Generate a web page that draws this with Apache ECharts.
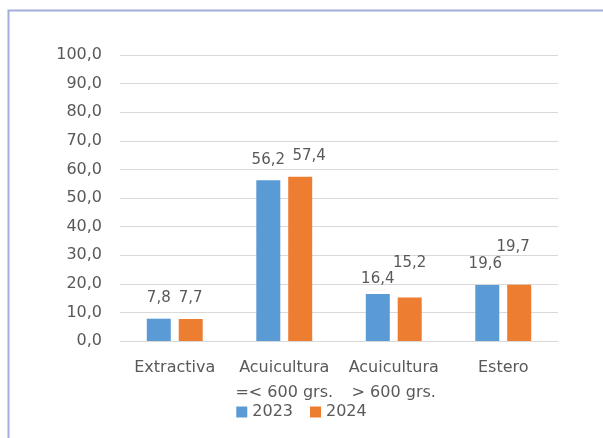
<!DOCTYPE html>
<html>
<head>
<meta charset="utf-8">
<script src="https://cdn.jsdelivr.net/npm/echarts@6/dist/echarts.min.js"></script>
<style>
html,body{margin:0;padding:0;background:#fff;}
#chart{width:603px;height:438px;}
</style>
</head>
<body>
<div id="chart"></div>
<script>
// ---- data ----
const categories = ['Extractiva', 'Acuicultura\n=< 600 grs.', 'Acuicultura\n> 600 grs.', 'Estero'];
const seriesNames = ['2023', '2024'];
const values2023 = [7.8, 56.2, 16.4, 19.6];
const values2024 = [7.7, 57.4, 15.2, 19.7];
const yTicks = [0, 10, 20, 30, 40, 50, 60, 70, 80, 90, 100];

// ---- style (label nudges [dx, dy], as in the original hand-placed labels) ----
const labelNudge2023 = [[0, 0], [0, 0], [0, 6], [-2, 0]];
const labelNudge2024 = [[0, 0], [9, 0], [0, -14], [-6, -17]];
const colors = ['#5B9BD5', '#ED7D31'];
const textColor = '#595959';
const font = 'DejaVu Sans';

function fmt(v) { return v.toFixed(1).replace('.', ','); }

function makeSeries(name, vals, nudge, color) {
  return {
    name: name,
    type: 'bar',
    barWidth: 24,
    barGap: '33%',
    itemStyle: { color: color },
    data: vals.map((v, i) => ({
      value: v,
      label: { offset: nudge[i] }
    })),
    label: {
      show: true,
      position: 'top',
      distance: 13,
      color: textColor,
      fontFamily: font,
      fontSize: 15,
      formatter: p => fmt(p.value)
    }
  };
}

const chart = echarts.init(document.getElementById('chart'), null, { renderer: 'canvas' });
chart.setOption({
  animation: false,
  backgroundColor: '#ffffff',
  textStyle: { fontFamily: font },
  graphic: [{
    type: 'rect',
    shape: { x: 8.5, y: 10.5, width: 700, height: 600 },
    style: { fill: 'none', stroke: '#A3ADDA', lineWidth: 2 },
    silent: true
  }],
  grid: { left: 120, right: 45, top: 55, bottom: 97, containLabel: false },
  legend: {
    data: seriesNames,
    bottom: 13,
    left: 'center',
    itemWidth: 11,
    itemHeight: 11,
    itemGap: 17,
    icon: 'rect',
    textStyle: { color: textColor, fontFamily: font, fontSize: 16 }
  },
  xAxis: {
    type: 'category',
    data: categories,
    axisLine: { lineStyle: { color: '#D9D9D9' } },
    axisTick: { show: false },
    axisLabel: {
      color: textColor,
      fontFamily: font,
      fontSize: 16,
      lineHeight: 25,
      margin: 14,
      interval: 0
    }
  },
  yAxis: {
    type: 'value',
    min: yTicks[0],
    max: yTicks[yTicks.length - 1],
    interval: yTicks[1] - yTicks[0],
    axisLine: { show: false },
    axisTick: { show: false },
    splitLine: { lineStyle: { color: '#D9D9D9' } },
    axisLabel: {
      color: textColor,
      fontFamily: font,
      fontSize: 16,
      margin: 18,
      formatter: v => fmt(v)
    }
  },
  series: [
    makeSeries(seriesNames[0], values2023, labelNudge2023, colors[0]),
    makeSeries(seriesNames[1], values2024, labelNudge2024, colors[1])
  ]
});
</script>
</body>
</html>
